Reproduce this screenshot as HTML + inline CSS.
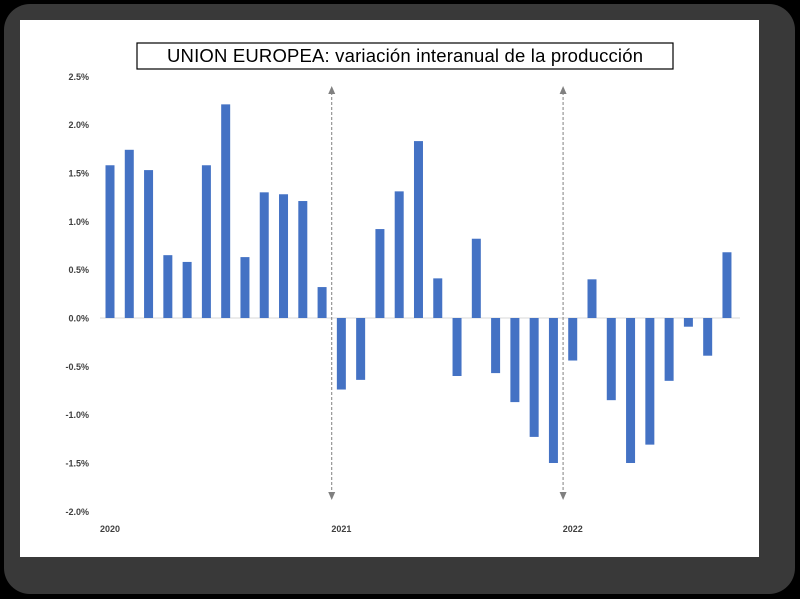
<!DOCTYPE html>
<html><head><meta charset="utf-8"><style>
body{margin:0;background:#000;width:800px;height:599px;overflow:hidden}
svg{display:block}
</style></head><body>
<svg width="800" height="599" xmlns="http://www.w3.org/2000/svg" font-family="Liberation Sans, sans-serif">
<rect x="4" y="4" width="791" height="590" rx="26" fill="#393939"/>
<rect x="20" y="20" width="739" height="537" fill="#fff"/>
<rect x="137" y="43" width="536" height="26" fill="#fff" stroke="#000" stroke-width="1.2"/>
<text x="405" y="62" font-size="18.5" text-anchor="middle" textLength="476" fill="#000">UNION EUROPEA: variación interanual de la producción</text>
<g id="axis"></g>
<g id="bars"></g>
<g id="marks"></g>
</svg>
<script>
const values=[1.58,1.74,1.53,0.65,0.58,1.58,2.21,0.63,1.30,1.28,1.21,0.32,-0.74,-0.64,0.92,1.31,1.83,0.41,-0.60,0.82,-0.57,-0.87,-1.23,-1.50,-0.44,0.40,-0.85,-1.50,-1.31,-0.65,-0.09,-0.39,0.68];
const ticks=[2.5,2.0,1.5,1.0,0.5,0.0,-0.5,-1.0,-1.5,-2.0];
const years=["2020","2021","2022"];
const yearIdx=[0,12,24];
const NS="http://www.w3.org/2000/svg";
const y=v=>318-v*96.67;
const x=i=>110+i*19.28;
function mk(t,a,p){const e=document.createElementNS(NS,t);for(const k in a)e.setAttribute(k,a[k]);p.appendChild(e);return e;}
const ax=document.getElementById('axis'),bg=document.getElementById('bars'),mg=document.getElementById('marks');
ticks.forEach(t=>{const e=mk('text',{x:89,y:y(t)+3.5,'font-size':9,'font-weight':'bold','text-anchor':'end',fill:'#404040'},ax);


e.textContent=t.toFixed(1)+'%';});
const zl=mk('line',{x1:100,x2:740,y1:y(0),y2:y(0),stroke:'#d9d9d9','stroke-width':1},ax);


values.forEach((v,i)=>{const r=mk('rect',{x:x(i)-4.5,width:9,y:Math.min(y(v),y(0)),height:Math.abs(y(v)-y(0)),fill:'#4472c4'},bg);

});
years.forEach((yr,k)=>{const e=mk('text',{x:x(yearIdx[k])-10,y:532,'font-size':9,'font-weight':'bold',fill:'#404040'},ax);


e.textContent=yr;
if(k>0){const cx=(x(yearIdx[k])+x(yearIdx[k]-1))/2;
const g=mk('g',{},mg);


mk('line',{x1:cx,x2:cx,y1:92,y2:493,stroke:'#808080','stroke-width':1,'stroke-dasharray':'3,2'},g);
mk('path',{d:`M${cx-3.5} 94 L${cx} 86 L${cx+3.5} 94 Z`,fill:'#808080'},g);
mk('path',{d:`M${cx-3.5} 492 L${cx} 500 L${cx+3.5} 492 Z`,fill:'#808080'},g);}});
</script>
</body></html>
